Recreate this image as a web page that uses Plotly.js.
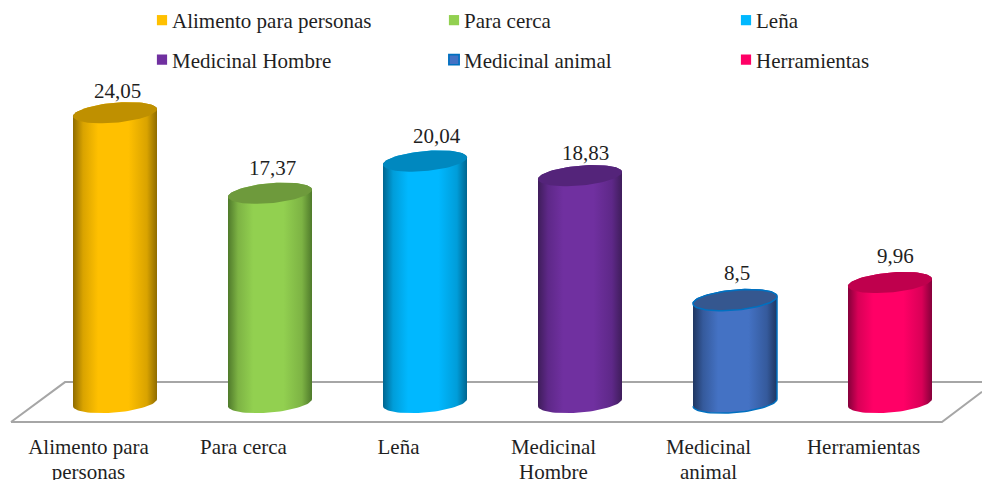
<!DOCTYPE html>
<html>
<head>
<meta charset="utf-8">
<script src="https://cdn.plot.ly/plotly-3.0.1.min.js"></script>
<style>html,body{margin:0;padding:0;background:#fff}#chart{width:982px;height:480px}</style>
</head>
<body>
<div id="chart"></div>
<script>
var names = ["Alimento para personas","Para cerca","Leña","Medicinal Hombre","Medicinal animal","Herramientas"];
var tickLabels = ["Alimento para<br>personas","Para cerca","Leña","Medicinal<br>Hombre","Medicinal<br>animal","Herramientas"];
var values = [24.05,17.37,20.04,18.83,8.5,9.96];
var valueLabels = ["24,05","17,37","20,04","18,83","8,5","9,96"];

var mainColors = ["#FFC000","#92D050","#00B8FF","#7030A0","#4472C4","#FF0066"];
var edgeColors = ["#8F6C00","#4F7A2B","#00658F","#3F1D5B","#1F3661","#85003A"];
var midColors  = ["#D9A300","#7DB344","#009DD9","#5E2888","#355A9C","#D90057"];
var topColors  = ["#BF9000","#6E9A3C","#0088BF","#54247A","#35578F","#BF004D"];
var lineColors = [null,null,null,null,"#0070C0",null];
var legendRefs = ["legend","legend2","legend3","legend4","legend5","legend6"];
var legendCols = [132,424,716,132,424,716];
var legendRows = [20,20,20,60,60,60];
var labelDx = [2,2,12,5,2,5];
var labelDy = [22,25,25,23,27,27];

// pixel geometry of the page, mapped to axis units
var W=982, H=480, plotH=425, zeroPx=402.5, pxPerUnit=12.08, firstPx=115, stepPx=155;
var halfW=42, semiY=10, tilt=3.6, labelShift=-26.5;
var xRange=[(0-firstPx)/stepPx,(W-firstPx)/stepPx];
var yRange=[(zeroPx-plotH)/pxPerUnit, zeroPx/pxPerUnit];
var a=halfW/stepPx, b=semiY/pxPerUnit, s=tilt/pxPerUnit;

function arc(cx,cy,t0,t1,n){
  var xs=[],ys=[];
  for(var k=0;k<=n;k++){
    var t=t0+(t1-t0)*k/n;
    xs.push(cx+a*Math.cos(t));
    ys.push(cy+s*Math.cos(t)+b*Math.sin(t));
  }
  return [xs,ys];
}

var traces=[];
// flat bars: carry the values and legend entries
values.forEach(function(v,i){
  traces.push({type:"bar",x:[i],y:[v],width:[60/stepPx],name:names[i],legend:legendRefs[i],
    marker:{color:mainColors[i],line:{color:lineColors[i]||mainColors[i],width:lineColors[i]?2:0}},
    hoverinfo:"name+y"});
});
// cylinder bodies and caps
values.forEach(function(v,i){
  var bot=arc(i,0,Math.PI,2*Math.PI,40);   // front arc of the base, left to right
  var top=arc(i,v,0,Math.PI,40);           // back arc of the top, right to left
  var line=lineColors[i]?{color:lineColors[i],width:1.5}:{width:0};
  traces.push({type:"scatter",mode:"lines",x:bot[0].concat(top[0]),y:bot[1].concat(top[1]),
    fill:"toself",line:line,showlegend:false,hoverinfo:"skip",
    fillcolor:mainColors[i],
    fillgradient:{type:"horizontal",colorscale:[[0,edgeColors[i]],[0.12,midColors[i]],[0.3,mainColors[i]],[0.66,mainColors[i]],[0.88,midColors[i]],[1,edgeColors[i]]]}});
  var cap=arc(i,v,0,2*Math.PI,80);
  traces.push({type:"scatter",mode:"lines",x:cap[0],y:cap[1],fill:"toself",fillcolor:topColors[i],
    line:line,showlegend:false,hoverinfo:"skip"});
});

var font={family:"'Liberation Serif','Times New Roman',serif",size:21,color:"#1f1f1f"};

var annotations=values.map(function(v,i){
  return {x:i,y:v,text:valueLabels[i],showarrow:false,xshift:labelDx[i],yshift:labelDy[i],
    xanchor:"center",yanchor:"middle",font:font};
});

var layout={
  width:W,height:H,margin:{l:0,r:0,t:0,b:H-plotH,pad:0},
  paper_bgcolor:"#fff",plot_bgcolor:"#fff",showlegend:true,barmode:"overlay",
  font:font,
  xaxis:{range:xRange,tickmode:"array",tickvals:values.map(function(v,i){return i+labelShift/stepPx;}),
    ticktext:tickLabels,showgrid:false,zeroline:false,showline:false,ticks:"outside",ticklen:3,
    tickcolor:"rgba(0,0,0,0)",tickfont:font,automargin:false,tickangle:0,fixedrange:true},
  yaxis:{range:yRange,visible:false,fixedrange:true},
  annotations:annotations,
  shapes:[{type:"path",xref:"paper",yref:"paper",layer:"below",
    path:"M 0.0112 "+(1-422/plotH)+" L 0.0662 "+(1-382/plotH)+" L 1.02 "+(1-382/plotH)+" M 0.0112 "+(1-422/plotH)+" L 0.9592 "+(1-422/plotH)+" L 1.0 "+(1-391.7/plotH),
    line:{color:"#A6A6A6",width:2}}]
};
legendRefs.forEach(function(ref,i){
  layout[ref]={xref:"paper",yref:"paper",x:legendCols[i]/W,y:1-legendRows[i]/plotH,
    xanchor:"left",yanchor:"middle",bgcolor:"rgba(0,0,0,0)",borderwidth:0,font:font,
    itemclick:false,itemdoubleclick:false};
});

Plotly.newPlot("chart",traces,layout,{displayModeBar:false,staticPlot:true}).then(function(){
  document.querySelectorAll(".legendsymbols").forEach(function(g){
    g.setAttribute("transform","translate(13,0) scale(0.85)");
  });
  document.querySelectorAll(".xtick text tspan.line").forEach(function(t){
    if(parseFloat(t.getAttribute("dy"))>0) t.setAttribute("dy","1.18em");
  });
});
</script>
</body>
</html>
